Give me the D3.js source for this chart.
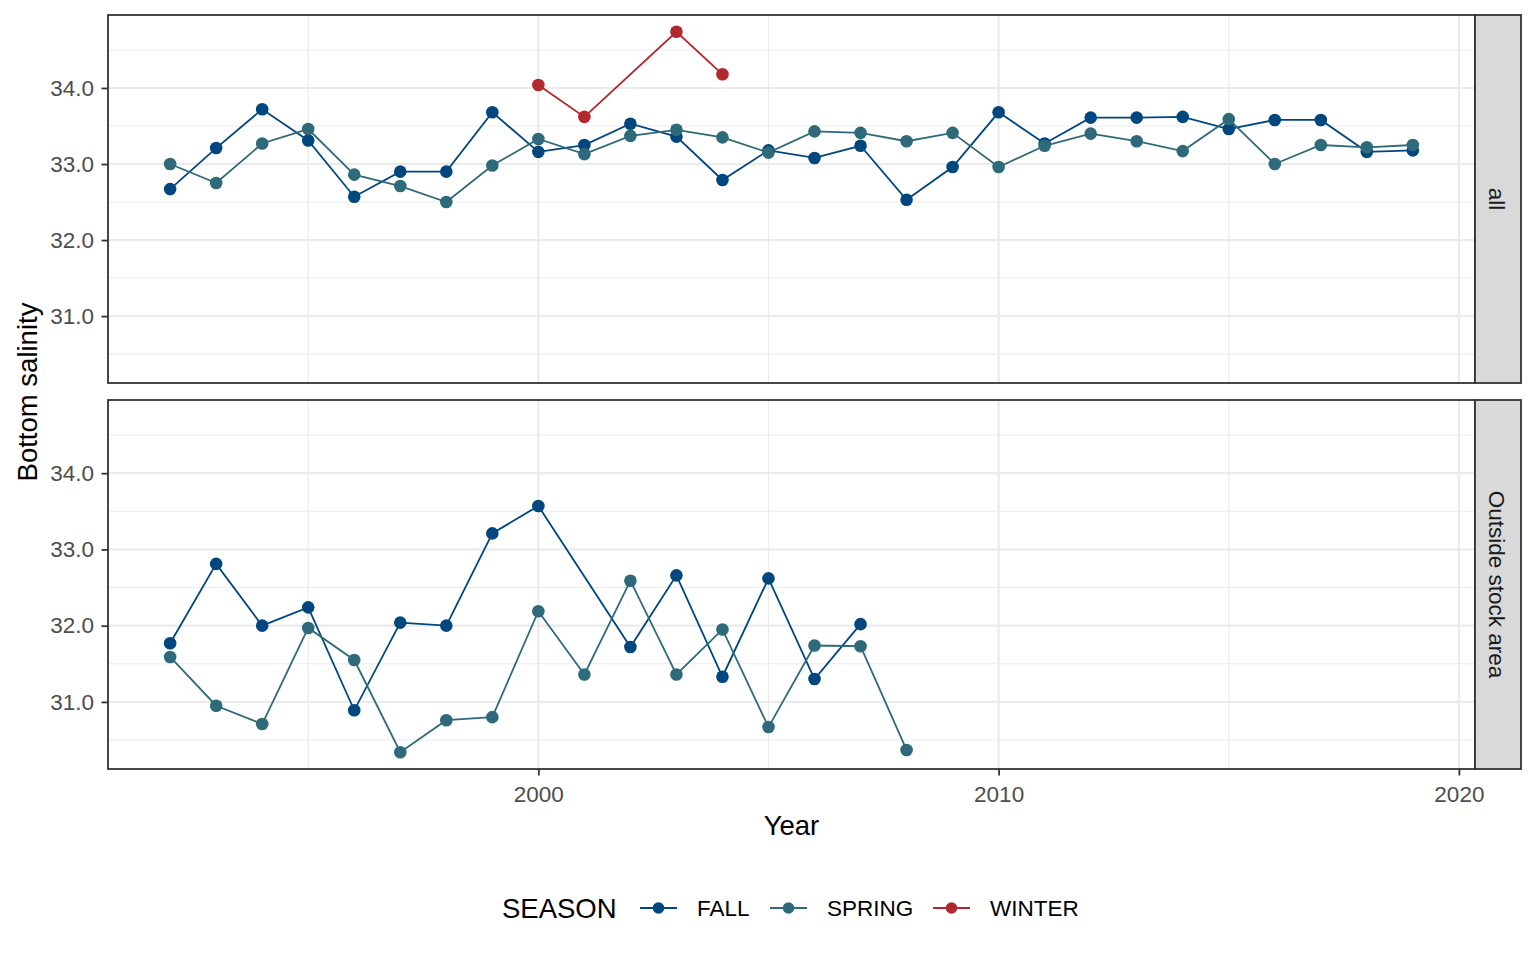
<!DOCTYPE html>
<html><head><meta charset="utf-8">
<script src="https://cdn.jsdelivr.net/npm/d3@7"></script>
<style>body{margin:0;background:#fff} svg{display:block;font-family:"Liberation Sans",Arial,sans-serif}</style>
</head><body><svg id="c" width="1536" height="960"></svg>
<script>
// ---- data ----
const seasons = ["FALL", "SPRING", "WINTER"];
const facets = ["all", "Outside stock area"];

const allFallYears = [1992,1993,1994,1995,1996,1997,1998,1999,2000,2001,2002,2003,2004,2005,2006,2007,2008,2009,2010,2011,2012,2013,2014,2015,2016,2017,2018,2019];
const allFall = [32.67,33.21,33.72,33.31,32.57,32.90,32.90,33.68,33.16,33.25,33.53,33.36,32.79,33.18,33.08,33.24,32.53,32.96,33.68,33.27,33.61,33.61,33.62,33.46,33.58,33.58,33.16,33.18];
const allSpringYears = [1992,1993,1994,1995,1996,1997,1998,1999,2000,2001,2002,2003,2004,2005,2006,2007,2008,2009,2010,2011,2012,2013,2014,2015,2016,2017,2018,2019];
const allSpring = [33.00,32.75,33.27,33.46,32.86,32.71,32.50,32.98,33.33,33.13,33.37,33.45,33.35,33.15,33.43,33.41,33.30,33.41,32.96,33.24,33.40,33.30,33.17,33.59,33.00,33.25,33.22,33.25];
const allWinterYears = [2000,2001,2003,2004];
const allWinter = [34.04,33.62,34.74,34.18];

const outFallYears = [1992,1993,1994,1995,1996,1997,1998,1999,2000,2002,2003,2004,2005,2006,2007];
const outFall = [31.77,32.81,32.00,32.24,30.89,32.04,32.00,33.21,33.57,31.72,32.66,31.33,32.62,31.30,32.02];
const outSpringYears = [1992,1993,1994,1995,1996,1997,1998,1999,2000,2001,2002,2003,2004,2005,2006,2007,2008];
const outSpring = [31.59,30.95,30.71,31.97,31.55,30.34,30.76,30.80,32.19,31.36,32.59,31.36,31.95,30.67,31.74,31.73,30.37];

const xTicks = [2000, 2010, 2020];
const xMinor = [1995, 2005, 2015];
const yTicks = [31, 32, 33, 34];
const yMinor = [30.5, 31.5, 32.5, 33.5, 34.5];

// ---- assemble ----
const zip = (ys, vs) => ys.map((y, i) => ({year: y, value: vs[i]}));
const panelData = [
  {facet: facets[0], series: [
    {season: seasons[0], pts: zip(allFallYears, allFall)},
    {season: seasons[1], pts: zip(allSpringYears, allSpring)},
    {season: seasons[2], pts: zip(allWinterYears, allWinter)}]},
  {facet: facets[1], series: [
    {season: seasons[0], pts: zip(outFallYears, outFall)},
    {season: seasons[1], pts: zip(outSpringYears, outSpring)}]}
];

const color = d3.scaleOrdinal().domain(seasons).range(["#00467f", "#2e6a7a", "#b2282f"]);

const allPts = panelData.flatMap(p => p.series.flatMap(s => s.pts));
const xExt = d3.extent(allPts, d => d.year), yExt = d3.extent(allPts, d => d.value);
const xr = xExt[1] - xExt[0], yrr = yExt[1] - yExt[0];

const L = 108, R = 1475;
const x = d3.scaleLinear().domain([xExt[0] - 0.05 * xr, xExt[1] + 0.05 * xr]).range([L, R]);
const panels = [{top: 15, bottom: 383}, {top: 400, bottom: 769}];

const svg = d3.select("#c");
const grid = "#ebebeb", dark = "#333333";
const FONT = '"Liberation Sans",Arial,sans-serif';

panelData.forEach((pd, i) => {
  const P = panels[i];
  const y = d3.scaleLinear().domain([yExt[0] - 0.05 * yrr, yExt[1] + 0.05 * yrr]).range([P.bottom, P.top]);
  const g = svg.append("g");
  // minor grid
  g.selectAll(".ym").data(yMinor.filter(v => y(v) > P.top && y(v) < P.bottom)).join("line")
    .attr("x1", L).attr("x2", R).attr("y1", d => y(d)).attr("y2", d => y(d))
    .attr("stroke", grid).attr("stroke-width", 1.1);
  g.selectAll(".xm").data(xMinor).join("line")
    .attr("x1", d => x(d)).attr("x2", d => x(d)).attr("y1", P.top).attr("y2", P.bottom)
    .attr("stroke", grid).attr("stroke-width", 1.1);
  // major grid
  g.selectAll(".yM").data(yTicks).join("line")
    .attr("x1", L).attr("x2", R).attr("y1", d => y(d)).attr("y2", d => y(d))
    .attr("stroke", grid).attr("stroke-width", 2.2);
  g.selectAll(".xM").data(xTicks).join("line")
    .attr("x1", d => x(d)).attr("x2", d => x(d)).attr("y1", P.top).attr("y2", P.bottom)
    .attr("stroke", grid).attr("stroke-width", 2.2);

  // lines
  const line = d3.line().x(d => x(d.year)).y(d => y(d.value));
  g.selectAll(".ln").data(pd.series).join("path")
    .attr("d", s => line(s.pts)).attr("fill", "none")
    .attr("stroke", s => color(s.season)).attr("stroke-width", 1.8);
  // points
  pd.series.forEach(s => {
    g.selectAll(null).data(s.pts).join("circle")
      .attr("cx", d => x(d.year)).attr("cy", d => y(d.value)).attr("r", 6.3)
      .attr("fill", color(s.season));
  });

  // panel border
  g.append("rect").attr("x", L).attr("y", P.top).attr("width", R - L).attr("height", P.bottom - P.top)
    .attr("fill", "none").attr("stroke", dark).attr("stroke-width", 1.8);

  // y axis
  const ya = d3.axisLeft(y).tickValues(yTicks).tickFormat(d3.format(".1f")).tickSize(6.5).tickPadding(7.5);
  const ag = svg.append("g").attr("transform", `translate(${L},0)`).call(ya);
  ag.select(".domain").remove();
  ag.selectAll("line").attr("stroke", dark).attr("stroke-width", 1.8);
  ag.selectAll("text").attr("fill", "#4d4d4d").style("font-size", "22.5px").style("font-family", FONT);

  // strip
  svg.append("rect").attr("x", R).attr("y", P.top).attr("width", 46).attr("height", P.bottom - P.top)
    .attr("fill", "#d9d9d9").attr("stroke", dark).attr("stroke-width", 1.8);
  svg.append("text").attr("transform", `translate(${R + 13.5},${(P.top + P.bottom) / 2}) rotate(90)`)
    .attr("text-anchor", "middle").attr("fill", "#1a1a1a").style("font-size", "22.5px").text(pd.facet);
});

// x axis
const xa = d3.axisBottom(x).tickValues(xTicks).tickFormat(d3.format("d")).tickSize(6.5).tickPadding(10.5);
const xg = svg.append("g").attr("transform", `translate(0,${panels[1].bottom})`).call(xa);
xg.select(".domain").remove();
xg.selectAll("line").attr("stroke", dark).attr("stroke-width", 1.8);
xg.selectAll("text").attr("fill", "#4d4d4d").style("font-size", "22.5px").style("font-family", FONT);

// titles
svg.append("text").attr("x", (L + R) / 2).attr("y", 835).attr("text-anchor", "middle")
  .style("font-size", "27.5px").attr("fill", "#000").text("Year");
svg.append("text").attr("transform", `translate(37,${(panels[0].top + panels[1].bottom) / 2}) rotate(-90)`)
  .attr("text-anchor", "middle").style("font-size", "27.5px").attr("fill", "#000").text("Bottom salinity");

// legend
const lg = svg.append("g");
lg.append("text").attr("x", 502).attr("y", 918).style("font-size", "27.5px").attr("fill", "#000").text("SEASON");
const keyX = [640, 770, 933];
seasons.forEach((s, i) => {
  const k = lg.append("g").attr("transform", `translate(${keyX[i]},908)`);
  k.append("line").attr("x1", 0).attr("x2", 37).attr("y1", 0).attr("y2", 0)
    .attr("stroke", color(s)).attr("stroke-width", 1.8);
  k.append("circle").attr("cx", 18.5).attr("cy", 0).attr("r", 5.8).attr("fill", color(s));
  k.append("text").attr("x", 57).attr("y", 8).style("font-size", "22.5px").attr("fill", "#000").text(s);
});
</script></body></html>
